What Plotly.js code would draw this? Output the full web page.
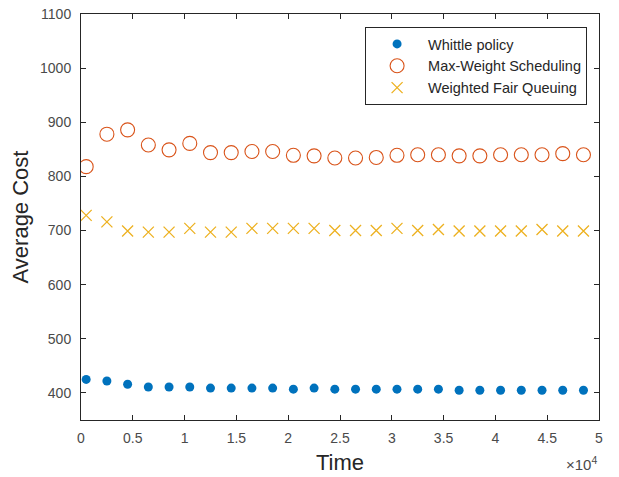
<!DOCTYPE html>
<html>
<head>
<meta charset="utf-8">
<script src="https://cdn.plot.ly/plotly-3.0.1.min.js"></script>
<style>html,body{margin:0;padding:0;background:#fff;}#chart{width:619px;height:477px;}</style>
</head>
<body>
<div id="chart"></div>
<script>
const time = [500, 2500, 4500, 6500, 8500, 10500, 12500, 14500, 16500, 18500, 20500, 22500, 24500, 26500, 28500, 30500, 32500, 34500, 36500, 38500, 40500, 42500, 44500, 46500, 48500];
const whittle = [425, 422, 416, 411, 411, 411, 409, 409, 409, 409, 407, 409, 407, 407, 407, 407, 407, 407, 405, 405, 405, 405, 405, 405, 405];
const maxWeight = [818, 878, 886, 858, 849, 861, 844, 844, 846, 846, 839, 838, 834, 834, 835, 839, 840, 840, 838, 838, 840, 840, 840, 842, 840];
const wfq = [728, 716, 699, 697, 697, 704, 697, 697, 704, 704, 704, 704, 700, 700, 700, 704, 700, 702, 699, 699, 699, 699, 702, 699, 699];
const seriesNames = ['Whittle policy', 'Max-Weight Scheduling', 'Weighted Fair Queuing'];
const xTickVals = [0, 5000, 10000, 15000, 20000, 25000, 30000, 35000, 40000, 45000, 50000];
const xTickText = ['0', '0.5', '1', '1.5', '2', '2.5', '3', '3.5', '4', '4.5', '5'];
const yTickVals = [400, 500, 600, 700, 800, 900, 1000, 1100];

const axisColor = '#262626';
const fam = 'Liberation Sans, Arial, sans-serif';
const tickFont = {family: fam, size: 14, color: '#4a4a4a'};

const traces = [
  {x: time, y: whittle, name: seriesNames[0], type: 'scatter', mode: 'markers',
   marker: {symbol: 'circle', size: 9, color: '#0072BD'}},
  {x: time, y: maxWeight, name: seriesNames[1], type: 'scatter', mode: 'markers',
   marker: {symbol: 'circle-open', size: 14, color: '#D95319', line: {width: 1.1, color: '#D95319'}}},
  {x: time, y: wfq, name: seriesNames[2], type: 'scatter', mode: 'markers',
   marker: {symbol: 'x-thin', size: 11, color: '#EDB120', line: {width: 1.3, color: '#EDB120'}}}
];

const layout = {
  width: 619, height: 477,
  margin: {l: 81, r: 20, t: 14, b: 57},
  paper_bgcolor: '#ffffff', plot_bgcolor: '#ffffff',
  showlegend: true,
  legend: {
    x: 0.977, xanchor: 'right', y: 0.968, yanchor: 'top',
    bgcolor: '#ffffff', bordercolor: axisColor, borderwidth: 1,
    itemwidth: 52,
    font: {family: fam, size: 14.5, color: '#262626'}
  },
  xaxis: {
    range: [0, 50000], tickmode: 'array', tickvals: xTickVals, ticktext: xTickText,
    ticks: 'inside', ticklen: 5, tickcolor: axisColor, tickwidth: 1,
    showline: true, linecolor: axisColor, linewidth: 1, mirror: 'ticks',
    showgrid: false, zeroline: false, tickfont: tickFont, ticklabelstandoff: 5,
    title: {text: 'Time', font: {family: fam, size: 22, color: '#262626'}, standoff: 9}
  },
  yaxis: {
    range: [350, 1100], tickmode: 'array', tickvals: yTickVals,
    ticks: 'inside', ticklen: 5, tickcolor: axisColor, tickwidth: 1,
    showline: true, linecolor: axisColor, linewidth: 1, mirror: 'ticks',
    showgrid: false, zeroline: false, tickfont: tickFont, ticklabelstandoff: 6,
    title: {text: 'Average Cost', font: {family: fam, size: 22, color: '#262626'}, standoff: 5}
  },
  annotations: [{
    xref: 'paper', yref: 'paper', x: 1, y: -0.08, xanchor: 'right', yanchor: 'top',
    text: '×10<sup>4</sup>', showarrow: false,
    font: {family: fam, size: 15, color: '#4a4a4a'}
  }]
};

Plotly.newPlot('chart', traces, layout, {displayModeBar: false, staticPlot: true});
</script>
</body>
</html>
